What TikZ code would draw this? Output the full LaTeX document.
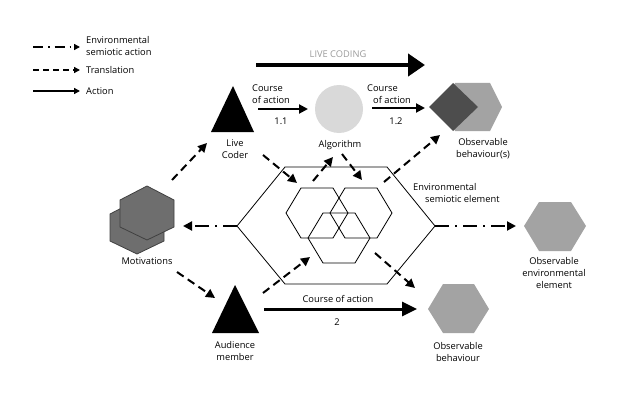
\documentclass[tikz,border=0pt]{standalone}
\usepackage{fontspec}
\setmainfont{Open Sans}
\usetikzlibrary{arrows.meta}

\definecolor{algogray}{HTML}{D9D9D9}
\definecolor{obsgray}{HTML}{A3A3A3}
\definecolor{obsdark}{HTML}{4D4D4D}
\definecolor{motgray}{HTML}{6E6E6E}
\definecolor{livegray}{HTML}{9A9A9A}

\begin{document}
\begin{tikzpicture}[x=1pt, y=-1pt]
\tikzset{ >={Triangle[length=9pt,width=9pt]},
  txt/.style={font=\fontsize{9.3}{12}\selectfont, align=center, inner sep=0pt},
  act/.style={->, line width=2pt},
  trans/.style={->, line width=2pt, dash pattern=on 8pt off 5pt},
  envsem/.style={->, line width=2pt, dash pattern=on 14pt off 6pt on 2pt off 6pt},
  legend/.style={line width=1.4pt, -{Triangle[length=6pt,width=6pt]}},
}

\useasboundingbox (0,0) rectangle (640,420);

%\draw [lightgray, dashed](0,0) grid[step=20] (640,420);

% legend
\coordinate (LgA) at (33,47);  \coordinate (LgAe) at (80,47);
\coordinate (LgB) at (33,70);  \coordinate (LgBe) at (80,70);
\coordinate (LgC) at (33,91);  \coordinate (LgCe) at (80,91);
\draw [legend, dash pattern=on 10pt off 5pt on 1.5pt off 5pt] (LgA) -- (LgAe);
\draw [legend, dash pattern=on 6pt off 4pt] (LgB) -- (LgBe);
\draw [legend] (LgC) -- (LgCe);
\node [txt, align=left, anchor=west] (LgAt) at (86,46) {Environmental\\semiotic action};
\node [txt, anchor=west] (LgBt) at (86,70) {Translation};
\node [txt, anchor=west] (LgCt) at (86,91) {Action};

% live coding
\node [txt, text=livegray] (LiveTxt) at (338,54) {LIVE CODING};
\coordinate (LiveS) at (256,65);
\coordinate (LiveE) at (425,65);
\draw [line width=4.5pt, -{Triangle[length=17pt,width=22pt]}] (LiveS) -- (LiveE);

% shapes
\fill (233,86) -- (254,132) -- (211,132) -- cycle;
\fill (235,285) -- (259,333) -- (212,333) -- cycle;
\fill [algogray] (339,109) circle (24);
\fill [obsgray] (443,107) -- (455,83) -- (490,83) -- (502,107) -- (490,131) -- (455,131) -- cycle;
\fill [obsdark] (429,107) -- (453,83) -- (478,107) -- (453,131) -- cycle;
\fill [obsgray] (428,309) -- (443,284) -- (474,284) -- (489,309) -- (474,333) -- (443,333) -- cycle;
\fill [obsgray] (524,226) -- (539,202) -- (571,202) -- (586,226) -- (571,251) -- (539,251) -- cycle;

\foreach \cx/\cy in {137/227, 147/213}
  \filldraw [fill=motgray, draw=black!75, line width=0.8pt]
    (\cx,\cy-27) -- ++(27,14) -- ++(0,27) -- ++(-27,13) -- ++(-27,-13) -- ++(0,-27) -- cycle;

% environmental semiotic element
\draw [line width=0.8pt] (237,226) -- (285,167) -- (387,167) -- (435,226) -- (387,284) -- (285,284) -- cycle;
\foreach \cx/\cy in {317/213, 361/213, 339/238}
  \draw [line width=0.8pt] (\cx-31,\cy) -- ++(15,-25) -- ++(32,0) -- ++(15,25) -- ++(-15,25) -- ++(-32,0) -- cycle;

% labels
\node [txt] (Coder) at (235,149) {Live\\Coder};
\node [txt] (Audience) at (235,351) {Audience\\member};
\node [txt] (Algo) at (340,145) {Algorithm};
\node [txt] (ObsS) at (483,149) {Observable\\behaviour(s)};
\node [txt] (Obs) at (458,352) {Observable\\behaviour};
\node [txt] (ObsEnv) at (554,273) {Observable\\environmental\\element};
\node [txt] (Motiv) at (147,261) {Motivations};
\node [txt, align=left, anchor=west] (EnvSem) at (413,193) {Environmental\\\hspace*{12pt}semiotic element};
\node [txt, align=left, anchor=west] (CoA1) at (252,94) {Course\\of action};
\node [txt] (N11) at (281,121) {1.1};
\node [txt, align=left, anchor=west] (CoA2) at (367,94) {Course\\\hspace*{6pt}of action};
\node [txt] (N12) at (396,121) {1.2};
\node [txt] (CoA3) at (338,299) {Course of action};
\node [txt] (N2) at (337,322) {2};

% connector ends
\coordinate (HexL) at (237,226);  \coordinate (MotR) at (183,226);
\coordinate (HexR) at (435,226);  \coordinate (EnvL) at (516,226);
\coordinate (MotUp) at (172,180); \coordinate (CoderIn) at (207,143);
\coordinate (MotDn) at (177,272); \coordinate (AudIn) at (215,298);
\coordinate (CoderOut) at (263,155); \coordinate (HexA) at (297,183);
\coordinate (HexB) at (313,181);  \coordinate (AlgoIn) at (333,157);
\coordinate (AlgoOut) at (342,154); \coordinate (HexC) at (362,180);
\coordinate (HexD) at (384,182);  \coordinate (ObsSIn) at (440,135);
\coordinate (AudOut) at (263,293); \coordinate (HexE) at (310,257);
\coordinate (HexF) at (375,253);  \coordinate (ObsIn) at (415,288);
\coordinate (A11s) at (258,109);  \coordinate (A11e) at (308,109);
\coordinate (A12s) at (372,108);  \coordinate (A12e) at (425,108);
\coordinate (A2s) at (264,309);   \coordinate (A2e) at (417,309);

\draw [envsem] (HexL) -- (MotR);
\draw [envsem] (HexR) -- (EnvL);

\draw [trans] (MotUp) -- (CoderIn);
\draw [trans] (MotDn) -- (AudIn);
\draw [trans] (CoderOut) -- (HexA);
\draw [trans] (HexB) -- (AlgoIn);
\draw [trans] (AlgoOut) -- (HexC);
\draw [trans] (HexD) -- (ObsSIn);
\draw [trans] (AudOut) -- (HexE);
\draw [trans] (HexF) -- (ObsIn);

\draw [act] (A11s) -- (A11e);
\draw [act] (A12s) -- (A12e);
\draw [act, line width=3pt, -{Triangle[length=15pt,width=14pt]}] (A2s) -- (A2e);
\end{tikzpicture}
\end{document}
